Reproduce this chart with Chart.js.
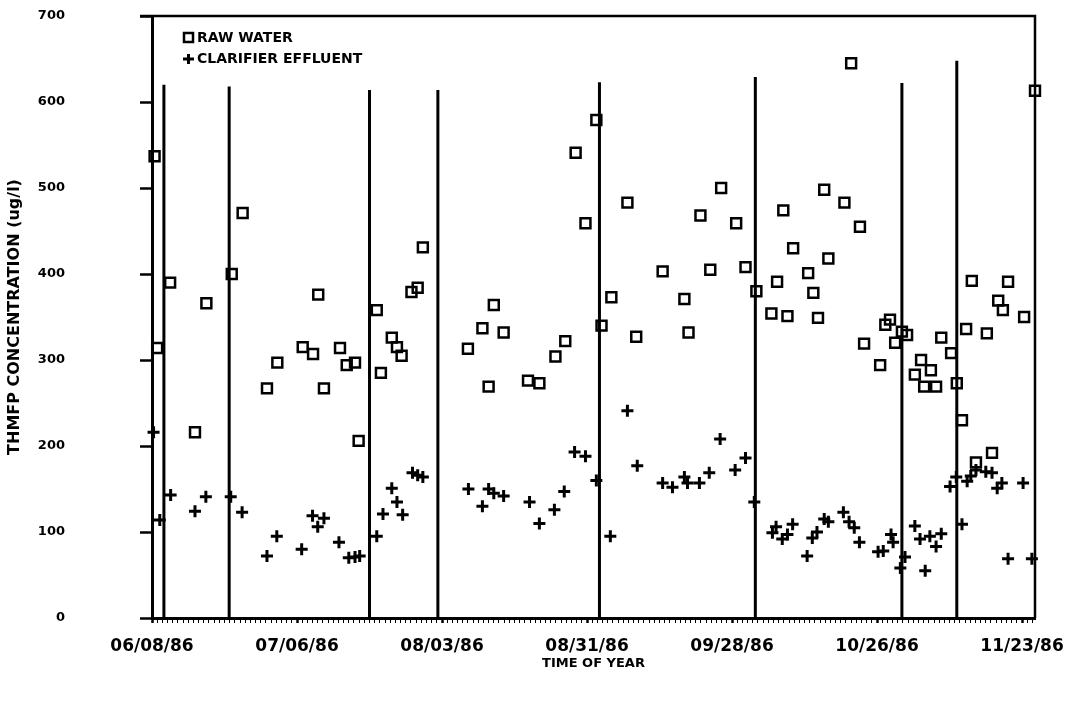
<!DOCTYPE html>
<html lang="en">
<head>
<meta charset="UTF-8">
<title>THMFP concentration vs time of year</title>
<script src="https://cdn.jsdelivr.net/npm/chart.js@4/dist/chart.umd.min.js"></script>
<style>
  html, body { margin: 0; padding: 0; background: #fff; }
  #chart { display: block; }
</style>
</head>
<body>
<canvas id="chart" width="1072" height="705"></canvas>
<script>
// x values are days after 06/08/86
const tickDays = [0, 28, 56, 84, 112, 140, 168];
const tickLabels = ['06/08/86', '07/06/86', '08/03/86', '08/31/86', '09/28/86', '10/26/86', '11/23/86'];

const rawDays = [0.5, 1.0, 3.5, 8.3, 10.5, 15.4, 17.5, 22.2, 24.2, 29.1, 31.1, 32.1, 33.2, 36.3, 37.6, 39.2, 39.9,
  43.4, 44.2, 46.3, 47.3, 48.2, 50.1, 51.3, 52.3, 61.0, 63.8, 65.0, 66.0, 67.9, 72.6, 74.8, 77.9, 79.8, 81.8,
  83.7, 85.8, 86.8, 88.7, 91.8, 93.5, 98.6, 102.8, 103.6, 105.9, 107.8, 109.9, 112.8, 114.6, 116.7, 119.6,
  120.7, 121.9, 122.7, 123.8, 126.7, 127.7, 128.6, 129.8, 130.6, 133.7, 135.0, 136.7, 137.5, 140.6, 141.6,
  142.5, 143.5, 144.8, 145.8, 147.3, 148.5, 149.1, 150.4, 151.4, 152.4, 154.3, 155.4, 156.4, 157.2, 158.3,
  159.1, 161.2, 162.2, 163.4, 164.3, 165.3, 168.4, 170.5];
const rawValues = [537, 314, 390, 216, 366, 400, 471, 267, 297, 315, 307, 376, 267, 314, 294, 297, 206,
  358, 285, 326, 315, 305, 379, 384, 431, 313, 337, 269, 364, 332, 276, 273, 304, 322, 541,
  459, 579, 340, 373, 483, 327, 403, 371, 332, 468, 405, 500, 459, 408, 380, 354,
  391, 474, 351, 430, 401, 378, 349, 498, 418, 483, 645, 455, 319, 294, 341,
  347, 320, 333, 329, 283, 300, 269, 288, 269, 326, 308, 273, 230, 336, 392,
  181, 331, 192, 369, 358, 391, 350, 613];

const effDays = [0.3, 1.5, 3.6, 8.3, 10.4, 15.2, 17.4, 22.2, 24.1, 28.9, 31.0, 32.0, 33.2, 36.1, 38.0, 39.2, 40.1,
  43.4, 44.6, 46.3, 47.3, 48.4, 50.3, 51.3, 52.3, 61.1, 63.8, 65.0, 66.0, 67.9, 72.9, 74.8, 77.7, 79.6, 81.6,
  83.7, 85.8, 88.5, 91.8, 93.7, 98.6, 100.5, 102.8, 103.4, 105.7, 107.6, 109.7, 112.6, 114.6, 116.3, 119.8,
  120.5, 121.7, 122.7, 123.7, 126.5, 127.5, 128.4, 129.8, 130.6, 133.5, 134.6, 135.6, 136.6, 140.2, 141.2,
  142.7, 143.1, 144.5, 145.4, 147.3, 148.3, 149.3, 150.2, 151.4, 152.4, 154.1, 155.3, 156.4, 157.4, 158.1,
  159.1, 161.0, 162.2, 163.2, 164.1, 165.3, 168.2, 169.9];
const effValues = [216, 114, 143, 124, 141, 141, 123, 72, 95, 80, 119, 106, 116, 88, 70, 71, 72,
  95, 121, 151, 135, 120, 169, 166, 164, 150, 130, 150, 145, 142, 135, 110, 126, 147, 193,
  188, 160, 95, 241, 177, 157, 152, 164, 157, 157, 169, 208, 172, 186, 135, 99,
  106, 92, 97, 109, 72, 93, 100, 115, 112, 123, 112, 105, 88, 77, 78,
  97, 88, 58, 71, 107, 92, 55, 95, 83, 98, 153, 164, 109, 159, 165,
  172, 170, 169, 151, 157, 69, 157, 69];

// vertical marker lines: day and height reached
const eventDays = [2.3, 14.9, 42.0, 55.2, 86.4, 116.5, 144.8, 155.4];
const eventTops = [620, 618, 614, 614, 623, 629, 622, 648];

const FONT = 'DejaVu Sans';

const pts = (xs, ys) => xs.map((x, i) => ({ x: x, y: ys[i] }));
const eventData = eventDays.flatMap((d, i) => [{ x: d, y: 0 }, { x: d, y: eventTops[i] }, { x: d, y: null }]);

const frame = {
  id: 'frame',
  beforeDatasetsDraw(chart) {
    const { ctx, chartArea: a } = chart;
    ctx.save();
    ctx.strokeStyle = '#000';
    ctx.lineWidth = 2.5;
    ctx.beginPath();
    ctx.moveTo(140, a.top);
    ctx.lineTo(a.right, a.top);
    ctx.lineTo(a.right, a.bottom);
    ctx.stroke();
    ctx.restore();
  },
  afterDraw(chart) {
    // legend in the top-left corner of the plot
    const { ctx } = chart;
    const rows = [chart.data.datasets[0], chart.data.datasets[1]];
    ctx.save();
    ctx.fillStyle = '#000';
    ctx.strokeStyle = '#000';
    ctx.font = 'bold 14px ' + FONT;
    ctx.textBaseline = 'middle';
    rows.forEach((ds, i) => {
      const y = 38 + i * 21;
      ctx.lineWidth = 2.5;
      if (ds.pointStyle === 'rect') {
        ctx.strokeRect(184, y - 5, 9, 9);
      } else {
        ctx.lineWidth = 3;
        ctx.beginPath();
        ctx.moveTo(183, y); ctx.lineTo(194, y);
        ctx.moveTo(188.5, y - 5); ctx.lineTo(188.5, y + 5);
        ctx.stroke();
      }
      ctx.fillText(ds.label, 197, y);
    });
    ctx.restore();
  }
};

new Chart(document.getElementById('chart'), {
  type: 'scatter',
  data: {
    datasets: [
      {
        label: 'RAW WATER',
        data: pts(rawDays, rawValues),
        pointStyle: 'rect',
        pointRadius: 7,
        borderWidth: 2.5,
        borderColor: '#000',
        backgroundColor: 'rgba(0,0,0,0)',
        clip: false,
        order: 1
      },
      {
        label: 'CLARIFIER EFFLUENT',
        data: pts(effDays, effValues),
        pointStyle: 'cross',
        pointRadius: 6,
        borderWidth: 3,
        borderColor: '#000',
        backgroundColor: '#000',
        clip: false,
        order: 1
      },
      {
        label: 'markers',
        data: eventData,
        showLine: true,
        spanGaps: false,
        pointRadius: 0,
        borderWidth: 3,
        borderColor: '#000',
        order: 3
      }
    ]
  },
  options: {
    responsive: false,
    animation: false,
    devicePixelRatio: 1,
    layout: { padding: { left: 0, top: 16, right: 37, bottom: 0 } },
    plugins: { legend: { display: false }, tooltip: { enabled: false } },
    scales: {
      x: {
        type: 'linear',
        min: 0,
        max: 170.5,
        afterFit: (s) => { s.height = 87; },
        afterBuildTicks: (s) => {
          const t = [];
          for (let d = 0; d <= 170; d++) t.push({ value: d });
          s.ticks = t;
        },
        ticks: {
          autoSkip: false,
          maxRotation: 0,
          padding: 13,
          color: '#000',
          font: { family: FONT, size: 17, weight: 'bold' },
          callback: (v) => {
            const i = tickDays.indexOf(v);
            return i >= 0 ? tickLabels[i] : '';
          }
        },
        grid: {
          drawOnChartArea: false,
          tickLength: 5,
          tickColor: '#000',
          tickWidth: (c) => (c.tick && tickDays.indexOf(c.tick.value) >= 0 ? 2.5 : 1)
        },
        border: { color: '#000', width: 3 },
        title: {
          display: true,
          text: 'TIME OF YEAR',
          color: '#000',
          font: { family: FONT, size: 13, weight: 'bold' },
          padding: { top: 0, bottom: 34 }
        }
      },
      y: {
        min: 0,
        max: 700,
        afterFit: (s) => { s.width = 152; s.paddingTop = 0; s.paddingBottom = 0; },
        ticks: {
          stepSize: 100,
          padding: 75,
          color: '#000',
          font: { family: FONT, size: 13, weight: 'bold' }
        },
        grid: { drawOnChartArea: false, tickLength: 12, tickColor: '#000', tickWidth: 2.5 },
        border: { color: '#000', width: 3 },
        title: {
          display: true,
          text: 'THMFP CONCENTRATION (ug/l)',
          color: '#000',
          font: { family: FONT, size: 16, weight: 'bold' },
          padding: { top: 5, bottom: 0 }
        }
      }
    }
  },
  plugins: [frame]
});
</script>
</body>
</html>
